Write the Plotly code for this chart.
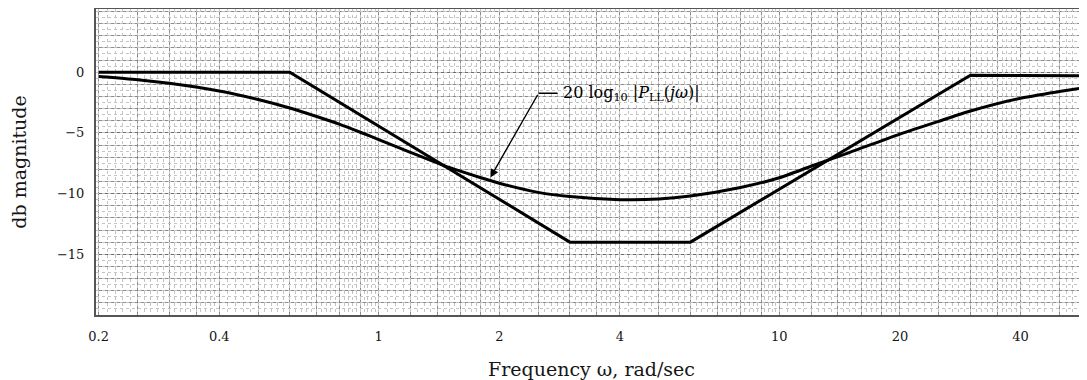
import numpy as np
import plotly.graph_objects as go

# exact magnitude curve (rad/sec, dB)
freq_curve = [0.2, 0.25, 0.3, 0.4, 0.5, 0.6, 0.7, 0.8, 0.9, 1.0, 1.2, 1.5, 1.8, 2.0,
              2.5, 3.0, 4.0, 5.0, 6.0, 8.0, 10.0, 12.0, 15.0, 20.0, 25.0, 30.0, 40.0,
              50.0, 58.6]
db_curve = [-0.36, -0.62, -0.92, -1.55, -2.25, -2.95, -3.65, -4.3, -4.95, -5.55, -6.6,
            -7.85, -8.7, -9.15, -9.9, -10.25, -10.5, -10.45, -10.2, -9.5, -8.7, -7.75,
            -6.6, -5.1, -4.05, -3.2, -2.15, -1.6, -1.25]

# straight-line asymptotes
freq_asym = [0.2, 0.6, 3.0, 6.0, 30.0, 60.0]
db_asym = [0.0, 0.0, -14.0, -14.0, -0.25, -0.3]

x_ticks = [0.2, 0.4, 1, 2, 4, 10, 20, 40]
x_labels = ["0.2", "0.4", "1", "2", "4", "10", "20", "40"]
y_ticks = [0, -5, -10, -15]
y_labels = ["0", "\u22125", "\u221210", "\u221215"]

x_lo, x_hi = 0.197, 58.6

# log graph paper rulings
medium_x, fine_x = [], []
for dec in [0.1, 1, 10]:
    for m in [1, 1.2, 1.4, 1.6, 1.8, 2, 2.5, 3, 3.5, 4, 5, 6, 7, 8, 9]:
        medium_x.append(round(m * dec, 6))
    for a, b, step in [(1, 2, 0.05), (2, 4, 0.1), (4, 10, 0.2)]:
        for m in np.arange(a, b, step):
            fine_x.append(round(m * dec, 6))
medium_x = [v for v in medium_x if x_lo <= v <= x_hi]
fine_x = [v for v in fine_x if x_lo <= v <= x_hi]
medium_y = list(range(-20, 6))
fine_y = [v / 2 for v in range(-40, 11)]

serif = "DejaVu Serif"
grid_mid = "#8c8c8c"
grid_fine = "#c4c4c4"
ink = "#151515"

fig = go.Figure()
fig.add_trace(go.Scatter(x=[], y=[], xaxis="x2", yaxis="y2", showlegend=False))
fig.add_trace(go.Scatter(x=freq_asym, y=db_asym, mode="lines",
                         line=dict(color="black", width=3), showlegend=False))
fig.add_trace(go.Scatter(x=freq_curve, y=db_curve, mode="lines",
                         line=dict(color="black", width=3, shape="spline", smoothing=0.6),
                         showlegend=False))

lx = np.log10

# label with bent leader and arrow
fig.add_annotation(x=lx(1.90), y=-8.68, ax=lx(2.506), ay=-1.74, axref="x", ayref="y",
                   text="", showarrow=True, arrowhead=2, arrowsize=1.2, arrowwidth=1.4,
                   arrowcolor="black")
fig.add_annotation(x=lx(2.506), y=-1.74, ax=93, ay=0, showarrow=True, arrowhead=0,
                   arrowwidth=1.6, arrowcolor="black", standoff=0, startstandoff=4,
                   text="20 log<sub>10</sub> |<i>P</i><sub>LL</sub>(<i>j\u03c9</i>)|",
                   font=dict(family=serif, size=16, color="black"))

# page body adds an 8 px offset, so the figure is sized to land the plot area on target
fig.update_layout(
    width=1079, height=372,
    margin=dict(l=88, r=0, t=1, b=65),
    paper_bgcolor="white", plot_bgcolor="white",
    font=dict(family=serif, color=ink),
    xaxis=dict(type="log", range=[lx(x_lo), lx(x_hi)], tickmode="array",
               tickvals=x_ticks, ticktext=x_labels, tickfont=dict(size=13, color=ink),
               ticks="", ticklabelstandoff=8,
               showgrid=True, gridcolor=grid_mid, gridwidth=1,
               minor=dict(tickmode="array", tickvals=medium_x, showgrid=True,
                          gridcolor=grid_mid, gridwidth=1, ticks=""),
               showline=True, linecolor="#555", linewidth=2, mirror=True, zeroline=False,
               title=dict(text="Frequency \u03c9, rad/sec", font=dict(size=19, color=ink),
                          standoff=20)),
    yaxis=dict(range=[-20, 5.2], tickmode="array", tickvals=y_ticks, ticktext=y_labels,
               tickfont=dict(size=13, color=ink), ticks="", ticklabelstandoff=7,
               showgrid=True, gridcolor="#6e6e6e", gridwidth=1.4,
               minor=dict(tickmode="array", tickvals=medium_y, showgrid=True,
                          gridcolor=grid_mid, gridwidth=1, ticks=""),
               showline=True, linecolor="#555", linewidth=2, mirror=False, zeroline=False,
               title=dict(text="db magnitude", font=dict(size=19, color=ink), standoff=28)),
    xaxis2=dict(type="log", range=[lx(x_lo), lx(x_hi)], overlaying="x", tickmode="array",
                tickvals=fine_x, showticklabels=False, ticks="", showgrid=True,
                gridcolor=grid_fine, gridwidth=1, griddash="dot", zeroline=False),
    yaxis2=dict(range=[-20, 5.2], overlaying="y", tickmode="array", tickvals=fine_y,
                showticklabels=False, ticks="", showgrid=True, gridcolor=grid_fine,
                gridwidth=1, griddash="dot", zeroline=False),
)

fig.write_html("out.html")
